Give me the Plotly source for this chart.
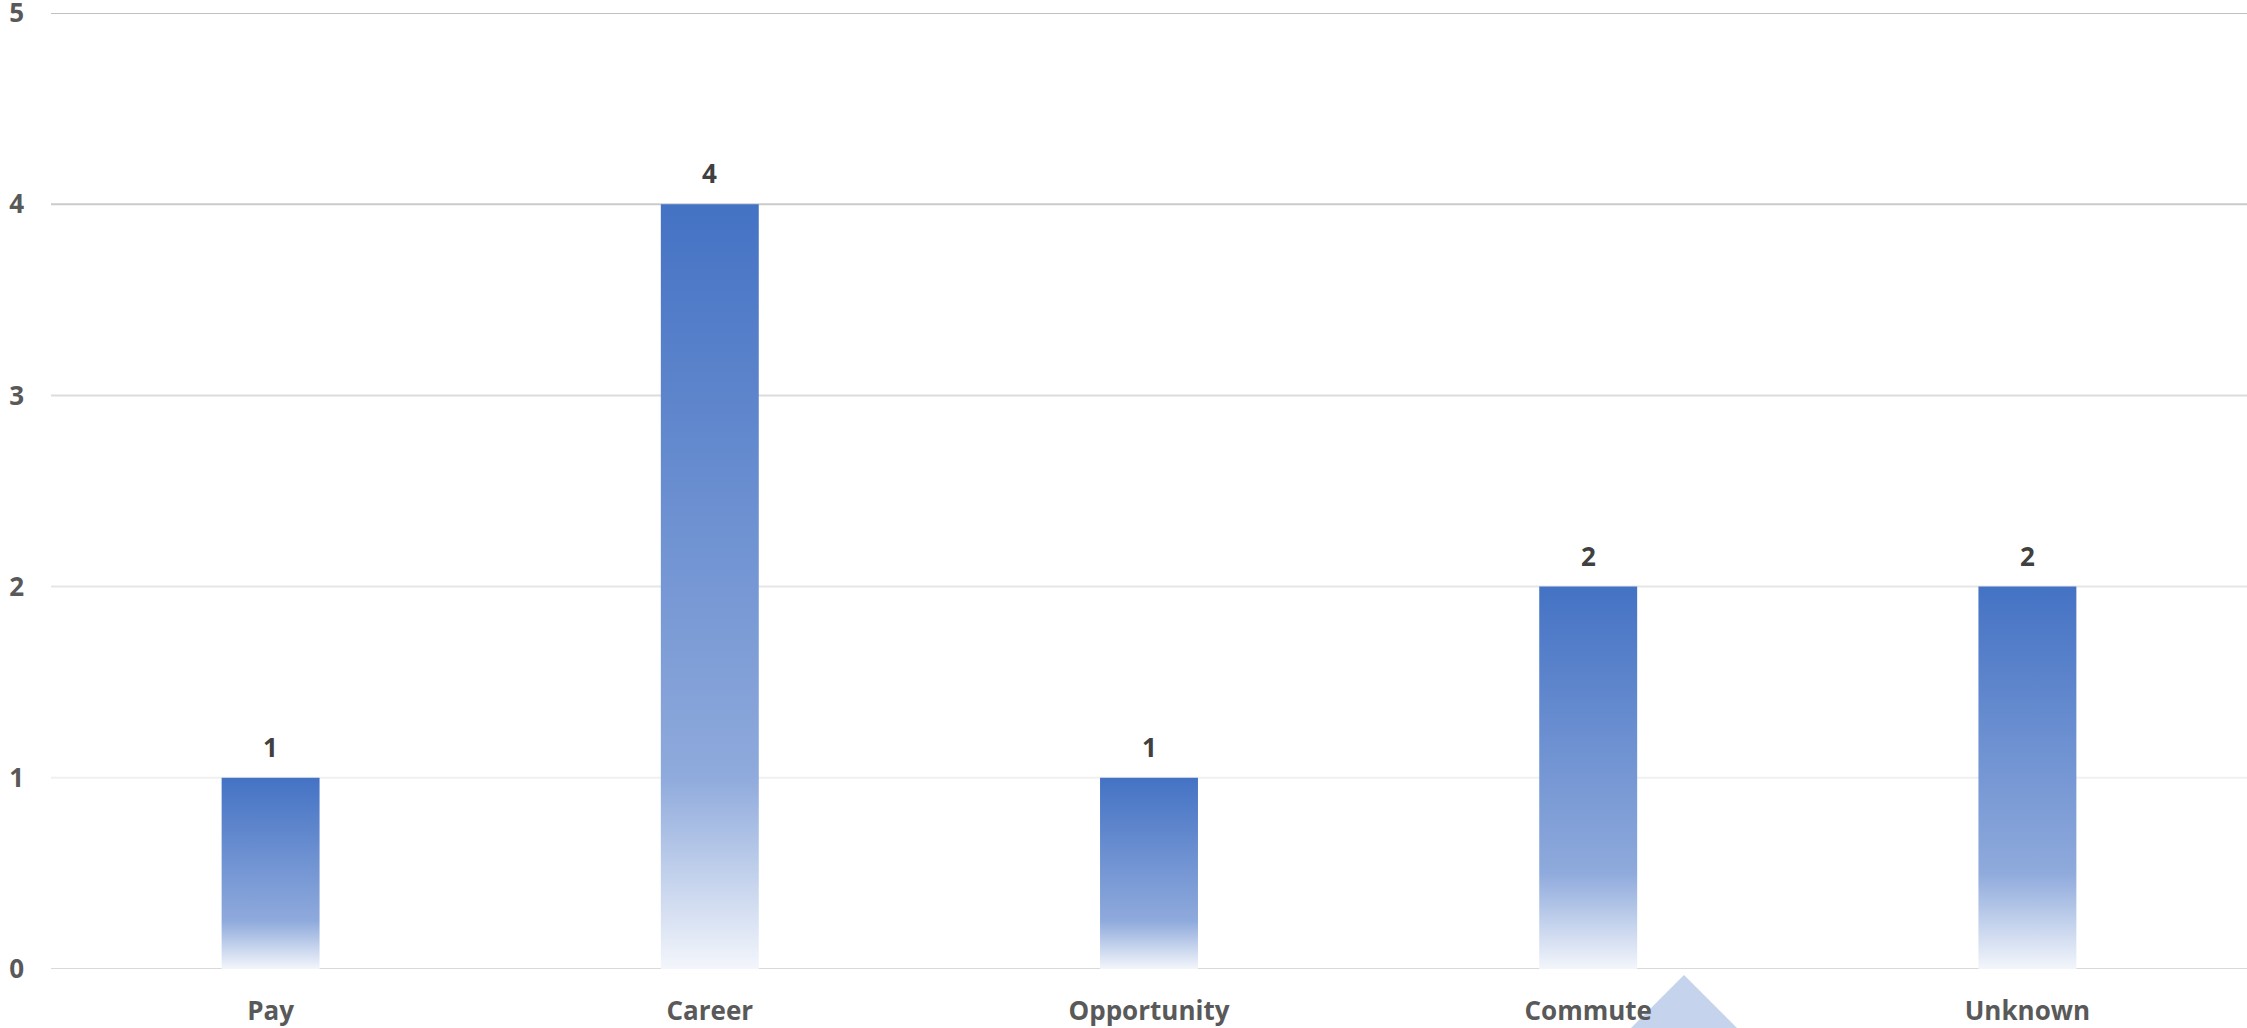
import plotly.graph_objects as go

categories = ["Pay", "Career", "Opportunity", "Commute", "Unknown"]
values = [1, 4, 1, 2, 2]
y_ticks = [0, 1, 2, 3, 4, 5]
grid_colors = ["#D9D9D9", "#F0F0F0", "#E6E6E6", "#DCDCDC", "#CBCBCB", "#C0C0C0"]

W, H = 2247, 1028
ML, MR, MT, MB = 51, 0, 13, 59
bar_half = 0.1115
grad = [[0, "#F3F6FB"], [0.25, "#8FAADC"], [1, "#4472C4"]]
FONT = "Open Sans"
FS = 26

fig = go.Figure()

# gridlines
for t, c in zip(y_ticks, grid_colors):
    fig.add_shape(type="line", xref="paper", yref="y", x0=0, x1=1, y0=t, y1=t,
                  line=dict(color=c, width=2), layer="below")

for i, (cat, v) in enumerate(zip(categories, values)):
    xs = [i - bar_half, i + bar_half, i + bar_half, i - bar_half, i - bar_half]
    ys = [0, 0, v, v, 0]
    fig.add_trace(go.Scatter(
        x=xs, y=ys, mode="lines", fill="toself", line=dict(width=0),
        fillgradient=dict(type="vertical", colorscale=grad, start=0, stop=v),
        hoverinfo="skip", showlegend=False))
    fig.add_annotation(x=i, y=v, text=f"<b>{v}</b>", showarrow=False,
                       yanchor="middle", yshift=31,
                       font=dict(family=FONT, size=FS, color="#404040"))

# decorative triangle below Commute
pw = W - ML - MR
ph = H - MT - MB
def px(x):
    return (x - ML) / pw
def py(y):
    return (H - MB - y) / ph
tri = [(1684, 975), (1790, 1081), (1578, 1081)]
path = "M {} {} L {} {} L {} {} Z".format(px(tri[0][0]), py(tri[0][1]), px(tri[1][0]), py(tri[1][1]), px(tri[2][0]), py(tri[2][1]))
fig.add_shape(type="path", xref="paper", yref="paper", path=path,
              fillcolor="#C5D4EC", line=dict(width=0), layer="below")

fig.update_layout(
    width=W, height=H,
    margin=dict(l=ML, r=MR, t=MT, b=MB, pad=0, autoexpand=False),
    paper_bgcolor="white", plot_bgcolor="white",
    font=dict(family=FONT, size=FS, color="#595959"),
    showlegend=False,
)
fig.update_xaxes(range=[-0.5, 4.5], tickmode="array", tickvals=list(range(len(categories))),
                 ticktext=[f"<b>{c}</b>" for c in categories],
                 showgrid=False, zeroline=False, showline=False, ticks="",
                 ticklabelstandoff=24, ticklabeloverflow="allow", automargin=False,
                 fixedrange=True)
fig.update_yaxes(range=[0, 5], tickmode="array", tickvals=y_ticks,
                 ticktext=[f"<b>{t}</b>" for t in y_ticks],
                 showgrid=False, zeroline=False, showline=False, ticks="",
                 ticklabelstandoff=26, ticklabeloverflow="allow", automargin=False,
                 fixedrange=True)

fig.write_html("out.html", config={"displayModeBar": False},
               post_script="document.body.style.margin='0';document.body.style.overflow='hidden';")
